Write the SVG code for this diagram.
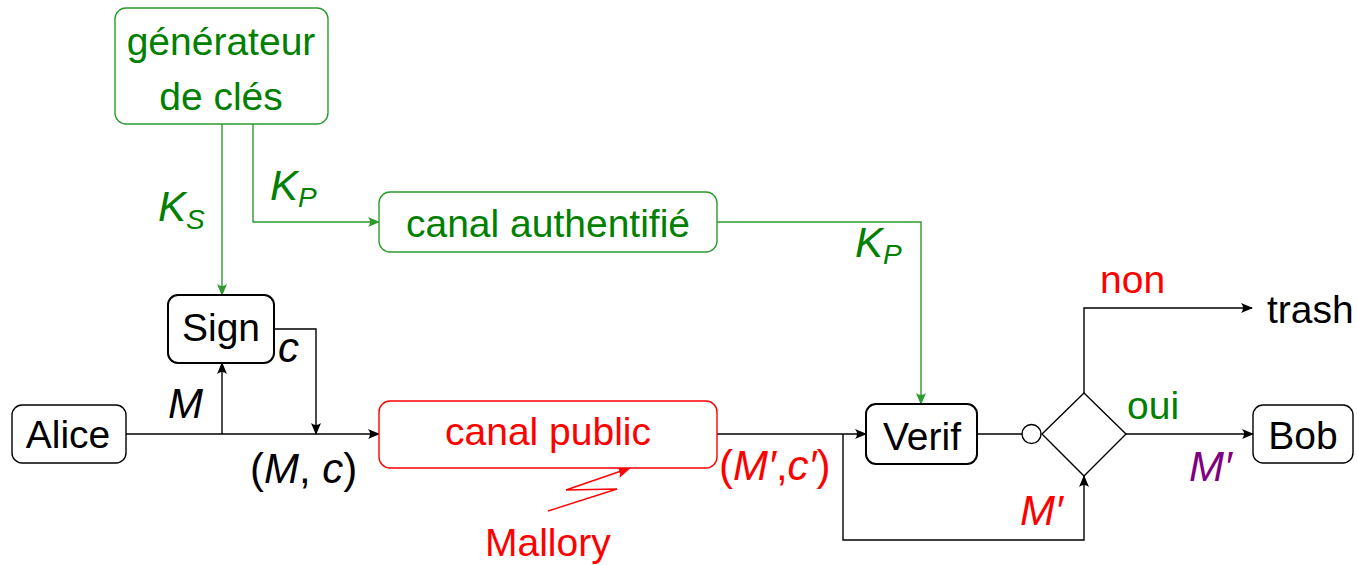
<svg xmlns="http://www.w3.org/2000/svg" width="1357" height="565" viewBox="0 0 1357 565">
  <style>
    text { font-family: "Liberation Sans", Arial, sans-serif; font-size: 39px; }
    .mid { text-anchor: middle; }
    .it { font-style: italic; }
    .math { font-size: 42px; }
    .sub { font-size: 28px; font-style: italic; }
    .g { fill: #008000; }
    .r { fill: #ff0000; }
    .k { fill: #000000; }
    .p { fill: #800080; }
    .boxk { fill: #ffffff; stroke: #000000; stroke-width: 2; }
    .boxk1 { fill: #ffffff; stroke: #000000; stroke-width: 1.4; }
    .boxg { fill: #ffffff; stroke: #2e9a2e; stroke-width: 1.4; }
    .boxr { fill: #ffffff; stroke: #ff0000; stroke-width: 1.4; }
    .lk { fill: none; stroke: #000000; stroke-width: 1.4; }
    .lg { fill: none; stroke: #2e9a2e; stroke-width: 1.4; }
    .lr { fill: none; stroke: #ff0000; stroke-width: 1.4; }
  </style>
  <defs>
    <marker id="ak" viewBox="0 0 12 10" refX="11" refY="5" markerWidth="12" markerHeight="10" markerUnits="userSpaceOnUse" orient="auto">
      <path d="M12,5 L0,0 Q4,5 0,10 Z" fill="#000000"/>
    </marker>
    <marker id="ag" viewBox="0 0 12 10" refX="11" refY="5" markerWidth="12" markerHeight="10" markerUnits="userSpaceOnUse" orient="auto">
      <path d="M12,5 L0,0 Q4,5 0,10 Z" fill="#2e9a2e"/>
    </marker>
    <marker id="ar" viewBox="0 0 12 10" refX="11" refY="5" markerWidth="16" markerHeight="12" markerUnits="userSpaceOnUse" orient="auto">
      <path d="M12,5 L0,0 Q4,5 0,10 Z" fill="#ff0000"/>
    </marker>
  </defs>

  <!-- connectors -->
  <g id="connectors">
    <!-- key generator to Sign (secret key) -->
    <path class="lg" d="M222,124 V295" marker-end="url(#ag)"/>
    <!-- key generator to authenticated channel (public key) -->
    <path class="lg" d="M253,124 V222 H379" marker-end="url(#ag)"/>
    <!-- authenticated channel to Verif -->
    <path class="lg" d="M717,222 H921 V404" marker-end="url(#ag)"/>
    <!-- Alice to public channel -->
    <path class="lk" d="M126,434 H379" marker-end="url(#ak)"/>
    <!-- message to Sign -->
    <path class="lk" d="M222,434 V363" marker-end="url(#ak)"/>
    <!-- signature back onto the line -->
    <path class="lk" d="M274,329 H316 V434" marker-end="url(#ak)"/>
    <!-- public channel to Verif -->
    <path class="lk" d="M717,434 H866" marker-end="url(#ak)"/>
    <!-- message loop to decision -->
    <path class="lk" d="M843,434 V540 H1084 V476" marker-end="url(#ak)"/>
    <!-- Verif to decision -->
    <path class="lk" d="M977,434 H1022"/>
    <!-- decision: non -->
    <path class="lk" d="M1084,393 V308 H1252" marker-end="url(#ak)"/>
    <!-- decision: oui -->
    <path class="lk" d="M1126,434 H1253" marker-end="url(#ak)"/>
    <!-- Mallory lightning -->
    <path class="lr" d="M548,511 L617,489 L566,490 L630,468" marker-end="url(#ar)"/>
  </g>

  <!-- connector labels -->
  <g id="labels">
    <text class="g it math" x="158" y="221">K<tspan class="sub" dy="8">S</tspan></text>
    <text class="g it math" x="270" y="200">K<tspan class="sub" dy="7">P</tspan></text>
    <text class="g it math" x="855" y="257">K<tspan class="sub" dy="7">P</tspan></text>
    <text class="k it math" x="168" y="418">M</text>
    <text class="k it math" x="278" y="362">c</text>
    <text class="k math" x="250" y="483">(<tspan class="it">M</tspan>, <tspan class="it">c</tspan>)</text>
    <text class="r math" x="719" y="480">(<tspan class="it">M′</tspan>,<tspan class="it">c′</tspan>)</text>
    <text class="r it math" x="1020" y="525">M′</text>
    <text class="r" x="1100" y="293">non</text>
    <text class="g" x="1127" y="419">oui</text>
    <text class="p it math" x="1189" y="481">M′</text>
    <text class="r" x="485" y="556">Mallory</text>
  </g>

  <g id="keygen">
    <rect class="boxg" x="115" y="8" width="213" height="116" rx="11"/>
    <text class="g mid" x="221" y="55">générateur</text>
    <text class="g mid" x="221" y="110">de clés</text>
  </g>

  <g id="canal-authentifie">
    <rect class="boxg" x="379" y="192" width="338" height="60" rx="11"/>
    <text class="g mid" x="548" y="237">canal authentifié</text>
  </g>

  <g id="sign">
    <rect class="boxk" x="168" y="295" width="106" height="68" rx="10"/>
    <text class="k mid" x="221" y="341">Sign</text>
  </g>

  <g id="alice">
    <rect class="boxk1" x="12" y="405" width="114" height="58" rx="10"/>
    <text class="k mid" x="68" y="448">Alice</text>
  </g>

  <g id="canal-public">
    <rect class="boxr" x="379" y="401" width="338" height="67" rx="11"/>
    <text class="r mid" x="548" y="445">canal public</text>
  </g>

  <g id="verif">
    <rect class="boxk" x="866" y="404" width="111" height="60" rx="10"/>
    <text class="k mid" x="922" y="450">Verif</text>
  </g>

  <g id="decision">
    <circle class="lk" cx="1031.5" cy="434" r="9.5" fill="#ffffff"/>
    <path class="lk" d="M1084,393 L1126,434 L1084,476 L1042,434 Z"/>
  </g>

  <g id="trash">
    <text class="k" x="1267" y="323">trash</text>
  </g>

  <g id="bob">
    <rect class="boxk1" x="1253" y="405" width="100" height="58" rx="10"/>
    <text class="k mid" x="1303" y="449">Bob</text>
  </g>
</svg>
